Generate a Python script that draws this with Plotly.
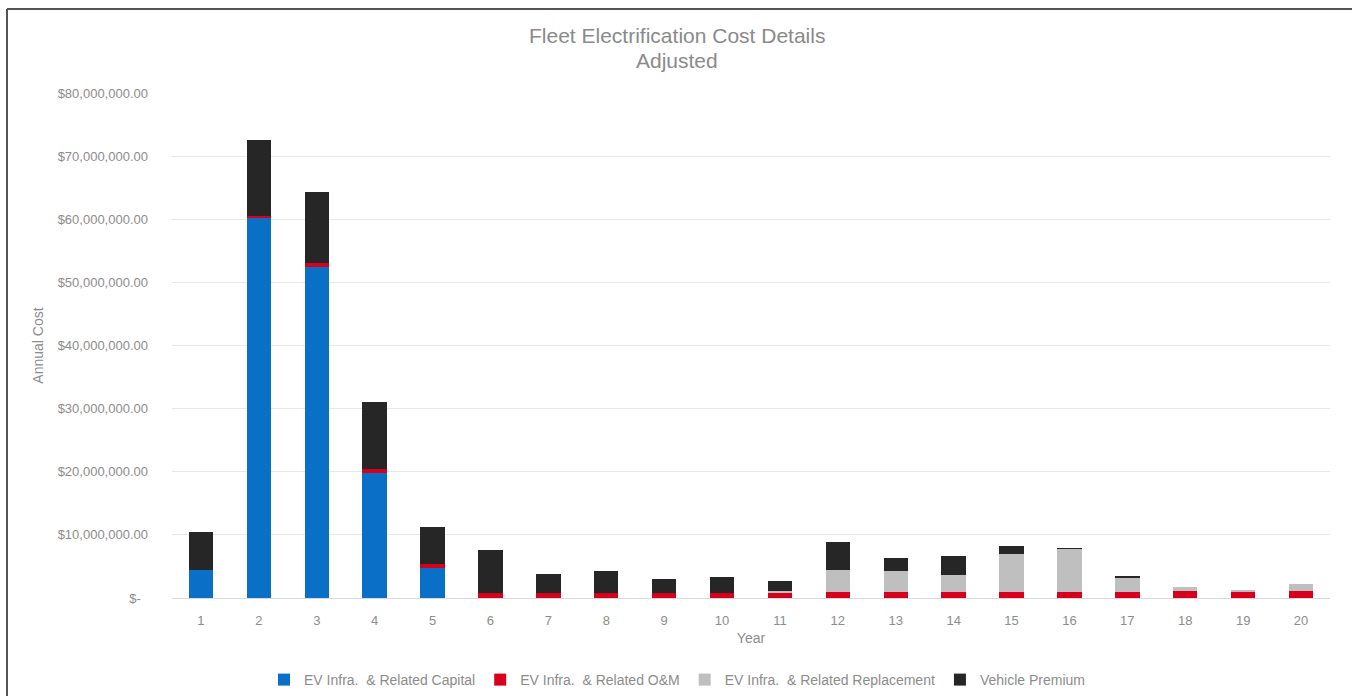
import plotly.graph_objects as go

# Annual cost components by fleet year (US dollars)
years = [str(y) for y in range(1, 21)]

capital = [4_400_000, 60_200_000, 52_500_000, 19_800_000, 4_750_000,
           0, 0, 0, 0, 0, 0, 0, 0, 0, 0, 0, 0, 0, 0, 0]
om = [0, 300_000, 500_000, 600_000, 700_000, 800_000, 800_000, 800_000,
      800_000, 800_000, 800_000, 900_000, 1_000_000, 1_000_000, 1_000_000,
      1_000_000, 1_000_000, 1_100_000, 1_100_000, 1_100_000]
replacement = [0, 0, 0, 0, 0, 0, 0, 0, 0, 0,
               300_000, 3_500_000, 3_300_000, 2_700_000, 5_900_000,
               6_800_000, 2_200_000, 600_000, 150_000, 1_050_000]
premium = [6_050_000, 12_100_000, 11_300_000, 10_700_000, 5_800_000,
           6_800_000, 2_950_000, 3_500_000, 2_260_000, 2_600_000,
           1_600_000, 4_400_000, 2_000_000, 2_900_000, 1_300_000,
           100_000, 200_000, 0, 0, 0]

series_names = ["EV Infra.  & Related Capital", "EV Infra.  & Related O&M",
                "EV Infra.  & Related Replacement", "Vehicle Premium"]
series_colors = ["#0A6FC6", "#D6001C", "#BFBFBF", "#262626"]

y_tick_vals = [0, 10_000_000, 20_000_000, 30_000_000, 40_000_000,
               50_000_000, 60_000_000, 70_000_000, 80_000_000]
y_tick_text = ["$-  ", "$10,000,000.00", "$20,000,000.00", "$30,000,000.00",
               "$40,000,000.00", "$50,000,000.00", "$60,000,000.00",
               "$70,000,000.00", "$80,000,000.00"]

title_lines = ["Fleet Electrification Cost Details", "Adjusted"]

FONT = "Liberation Sans, Arial, sans-serif"
TEXT_GREY = "#8C8C8C"

# plot-area geometry in pixels (used to place the frame and title)
W, H = 1354, 696
L, R, T, B = 172, 24, 93, 98
PW, PH = W - L - R, H - T - B


def px_x(x):
    return (x - L) / PW


def px_y(y):
    return (H - B - y) / PH


fig = go.Figure()
for name, values, color in zip(series_names,
                               [capital, om, replacement, premium],
                               series_colors):
    fig.add_trace(go.Bar(x=years, y=values, name=name,
                         marker=dict(color=color, line=dict(width=0))))

fig.update_layout(
    barmode="stack",
    bargap=0.58,
    width=W, height=H,
    margin=dict(l=L, r=R, t=T, b=B),
    paper_bgcolor="white",
    plot_bgcolor="white",
    font=dict(family=FONT, color=TEXT_GREY, size=13),
    legend=dict(orientation="h", x=0.5, xref="container", xanchor="center",
                y=(H - 680) / H, yref="container", yanchor="middle",
                traceorder="normal",
                font=dict(family=FONT, size=14, color=TEXT_GREY),
                itemwidth=30),
    xaxis=dict(title=dict(text="Year", standoff=6,
                          font=dict(family=FONT, size=14, color=TEXT_GREY)),
               showline=True, linecolor="#D9D9D9", linewidth=1,
               showgrid=False, ticks="", ticklabelstandoff=10,
               tickfont=dict(family=FONT, size=13, color=TEXT_GREY)),
    yaxis=dict(title=dict(text="Annual Cost", standoff=10,
                          font=dict(family=FONT, size=14, color=TEXT_GREY)),
               range=[0, 80_000_000], tickvals=y_tick_vals,
               ticktext=y_tick_text,
               tickfont=dict(family=FONT, size=13, color=TEXT_GREY),
               showgrid=True, gridcolor="#E8E8E8", gridwidth=1,
               zeroline=False, ticks="", ticklabelstandoff=23),
)

# Two-line chart title
for text, ypix in zip(title_lines, [36, 61]):
    fig.add_annotation(text=text, xref="paper", yref="paper",
                       x=px_x(W / 2), y=px_y(ypix), xanchor="center",
                       yanchor="middle", showarrow=False,
                       font=dict(family=FONT, size=21, color="#8A8A8A"))

# Chart frame: dark rule along the top and left edges
fig.add_shape(type="line", xref="paper", yref="paper",
              x0=px_x(7), x1=px_x(1352), y0=px_y(9), y1=px_y(9),
              line=dict(color="#555555", width=2))
fig.add_shape(type="line", xref="paper", yref="paper",
              x0=px_x(7), x1=px_x(7), y0=px_y(9), y1=px_y(700),
              line=dict(color="#555555", width=2))

fig.write_html("out.html")
